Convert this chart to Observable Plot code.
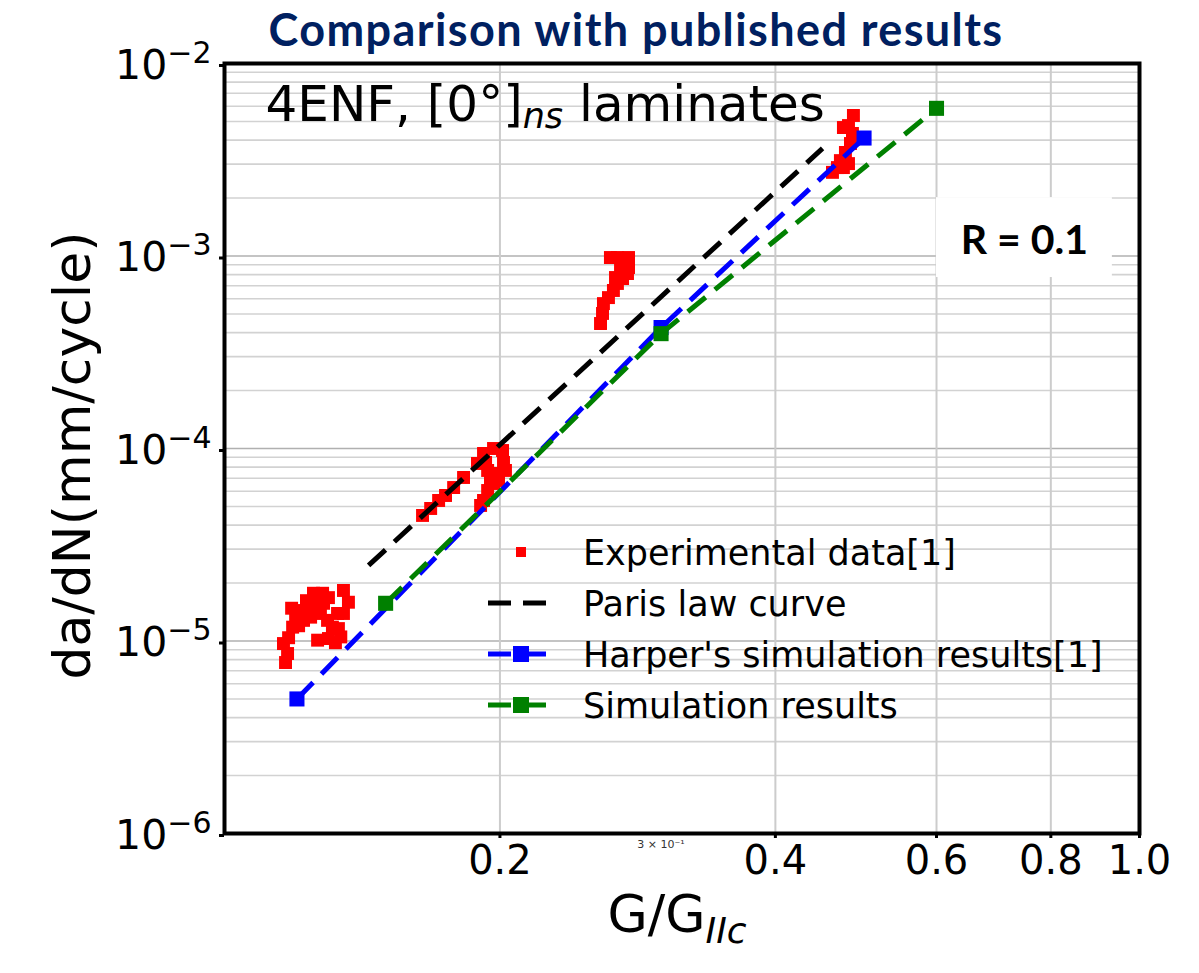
<!DOCTYPE html>
<html><head><meta charset="utf-8">
<script src="https://cdn.jsdelivr.net/npm/d3@7"></script>
<script src="https://cdn.jsdelivr.net/npm/@observablehq/plot@0.6"></script>
<style>
body{margin:0;background:#fff;}
#wrap{position:relative;width:1199px;height:973px;overflow:hidden;background:#fff;}
#wrap > svg{position:absolute;left:0;top:0;}
</style></head><body><div id="wrap"></div>
<script>
// ---- Experimental data [1] (G/GIIc, da/dN) ----
const expG = [
  0.1166,0.1172,0.1160,0.1175,0.1187,0.1196,0.1184,0.1211,0.1235,0.1257,
  0.1251,0.1280,0.1299,0.1273,0.1296,0.1312,0.1264,0.1299,0.1322,0.1332,
  0.1329,0.1349,0.1366,0.1349,0.1220,0.1205,0.1211,0.1242,0.1283,0.1229,0.1268,0.1340,
  0.1646,0.1680,0.1714,0.1744,0.1780,0.1825,0.1890,0.1919,0.1968,0.2013,
  0.2018,0.2028,0.1988,0.1939,0.1968,0.1939,0.1919,0.1905,0.1953,0.1993,0.1929,
  0.2576,0.2589,0.2595,0.2628,0.2661,0.2688,0.2723,0.2757,0.2764,0.2744,
  0.2688,0.2641,0.2764,0.2709,0.2675,
  0.4868,0.4808,0.4747,0.4856,0.4832,0.4771,0.4711,0.4676,0.4618,0.4747,0.4808
];
const expRate = [
  7.73e-6,8.61e-6,9.70e-6,1.04e-5,1.18e-5,1.31e-5,1.48e-5,1.44e-5,1.49e-5,1.59e-5,
  1.77e-5,1.77e-5,1.68e-5,1.39e-5,1.28e-5,1.18e-5,1.01e-5,1.03e-5,9.8e-6,1.16e-5,
  1.39e-5,1.83e-5,1.59e-5,1.39e-5,1.28e-5,1.20e-5,1.36e-5,1.33e-5,1.57e-5,1.62e-5,1.74e-5,1.05e-5,
  4.49e-5,4.88e-5,5.37e-5,5.70e-5,6.27e-5,7.07e-5,8.36e-5,9.42e-5,1.0e-4,9.76e-5,
  8.46e-5,7.69e-5,7.42e-5,7.69e-5,6.58e-5,6.05e-5,5.37e-5,5.06e-5,6.82e-5,6.82e-5,8.46e-5,
  4.46e-4,5.03e-4,5.66e-4,6.08e-4,6.62e-4,7.20e-4,7.64e-4,8.11e-4,8.71e-4,9.48e-4,
  9.82e-4,9.82e-4,9.82e-4,8.61e-4,7.73e-4,
  5.37e-3,4.76e-3,4.65e-3,4.33e-3,3.84e-3,3.45e-3,3.13e-3,2.88e-3,2.72e-3,2.88e-3,3.02e-3
];
// ---- Paris law curve ----
const parisG = [0.1437, 0.4504];
const parisRate = [2.47e-5, 3.62e-3];
// ---- Harper's simulation results [1] ----
const harperG = [0.12, 0.30, 0.50];
const harperRate = [5.0e-6, 4.25e-4, 4.1e-3];
// ---- Simulation results ----
const simG = [0.15, 0.30, 0.60];
const simRate = [1.57e-5, 3.95e-4, 5.85e-3];

// ---- ticks / labels ----
const xTicks = [0.2, 0.4, 0.6, 0.8, 1.0];
const xTickLabels = ["0.2", "0.4", "0.6", "0.8", "1.0"];
const xGrid = [0.2, 0.4, 0.6, 0.8];
const xMinorTick = [0.3];
const xMinorLabel = ["3 × 10⁻¹"];
const yTicks = [1e-6, 1e-5, 1e-4, 1e-3, 1e-2];
const yExponents = ["−6", "−5", "−4", "−3", "−2"];
const yMinor = d3.range(-6, -2).flatMap(k => d3.range(2, 10).map(m => m * Math.pow(10, k)));
const titleText = "Comparison with published results";
const yLabel = "da/dN(mm/cycle)";
const xLabelMain = "G/G";
const xLabelSub = "IIc";
const noteMain = "4ENF, [0°]";
const noteSub = "ns";
const noteTail = " laminates";
const boxG = [0.60, 0.934];
const boxRate = [7.73e-4, 2.01e-3];
const boxText = "R = 0.1";
const boxTextAt = [0.7485, 1.20e-3];
const legendLabels = ["Experimental data[1]", "Paris law curve", "Harper's simulation results[1]", "Simulation results"];
const legendColors = ["#ff0000", "#000000", "#0000ff", "#008000"];

const rows = (G, R) => G.map((g, i) => ({g, r: R[i]}));
const expRows = rows(expG, expRate);
const DASH = "23,12";

const chart = Plot.plot({
  width: 1199, height: 973,
  marginLeft: 224, marginRight: 60, marginTop: 63, marginBottom: 140,
  style: {fontFamily: "DejaVu Sans", background: "white", color: "black", overflow: "visible"},
  x: {type: "log", domain: [0.1, 1]},
  y: {type: "log", domain: [1e-6, 1e-2]},
  marks: [
    Plot.ruleY(yMinor, {stroke: "#d2d2d2", strokeWidth: 1.6}),
    Plot.ruleY(yTicks, {stroke: "#b0b0b0", strokeWidth: 1.6}),
    Plot.ruleX(xGrid, {stroke: "#cccccc", strokeWidth: 2}),
    Plot.rect([{x1: boxG[0], x2: boxG[1], y1: boxRate[0], y2: boxRate[1]}],
      {x1: "x1", x2: "x2", y1: "y1", y2: "y2", fill: "white"}),
    Plot.text([boxText], {x: () => boxTextAt[0], y: () => boxTextAt[1], text: d => d,
      fontFamily: "Lato", fontWeight: 700, fontSize: 41, fill: "black"}),
    Plot.dot(expRows, {x: "g", y: "r", symbol: "square", r: 7.3, fill: legendColors[0], stroke: "none"}),
    Plot.line(rows(parisG, parisRate), {x: "g", y: "r", stroke: legendColors[1], strokeWidth: 5,
      strokeDasharray: DASH, strokeLinecap: "butt"}),
    Plot.line(rows(harperG, harperRate), {x: "g", y: "r", stroke: legendColors[2], strokeWidth: 5,
      strokeDasharray: DASH, strokeLinecap: "butt"}),
    Plot.dot(rows(harperG, harperRate), {x: "g", y: "r", symbol: "square", r: 8.5, fill: legendColors[2], stroke: "none"}),
    Plot.line(rows(simG, simRate), {x: "g", y: "r", stroke: legendColors[3], strokeWidth: 5,
      strokeDasharray: DASH, strokeLinecap: "butt"}),
    Plot.dot(rows(simG, simRate), {x: "g", y: "r", symbol: "square", r: 8.5, fill: legendColors[3], stroke: "none"}),
    Plot.frame({stroke: "black", strokeWidth: 4}),
    Plot.axisX(xTicks, {tickFormat: d => xTickLabels[xTicks.indexOf(d)], fontSize: 40, tickSize: 5,
      tickPadding: 7, strokeWidth: 3, label: null}),
    Plot.axisX(xMinorTick, {tickFormat: () => xMinorLabel[0], fontSize: 11, tickSize: 0,
      tickPadding: 7, fill: "#333", label: null}),
    Plot.axisY(yTicks, {tickFormat: d => yExponents[yTicks.indexOf(d)], fontSize: 41, tickSize: 5,
      tickPadding: 8, strokeWidth: 3, dy: 2, label: null}),
    Plot.text([yLabel], {frameAnchor: "left", text: d => d, rotate: -90, dx: -151, dy: 7,
      fontSize: 52, textAnchor: "middle"}),
    Plot.text([xLabelMain], {frameAnchor: "bottom-left", text: d => d, dx: 383, dy: 98,
      fontSize: 52, textAnchor: "start"}),
    Plot.text([noteMain], {frameAnchor: "top-left", text: d => d, dx: 41, dy: 22,
      fontSize: 50, textAnchor: "start"})
  ]
});

const svg = d3.select(chart);
// superscript y tick labels
svg.selectAll('g[aria-label="y-axis tick label"] text').each(function () {
  const exp = this.textContent;
  const t = d3.select(this);
  t.text(null);
  t.append("tspan").text("10");
  t.append("tspan").attr("dy", -16).attr("font-size", 30).text(exp);
});
// subscripts in labels
svg.selectAll("text").each(function () {
  const t = d3.select(this);
  if (this.textContent === xLabelMain) {
    t.text(null);
    t.append("tspan").text(xLabelMain);
    t.append("tspan").attr("dy", 11).attr("font-size", 36).attr("font-style", "italic").text(xLabelSub);
  } else if (this.textContent === noteMain) {
    t.text(null);
    t.append("tspan").text(noteMain);
    t.append("tspan").attr("dy", 7).attr("font-size", 35).attr("font-style", "italic").text(noteSub);
    t.append("tspan").attr("dy", -7).text(noteTail);
  }
});
document.getElementById("wrap").appendChild(chart);

// overlay: title + legend
const ov = d3.select("#wrap").append("svg").attr("width", 1199).attr("height", 973)
  .style("pointer-events", "none").attr("font-family", "DejaVu Sans");
ov.append("text").attr("x", 636).attr("y", 46).attr("text-anchor", "middle")
  .attr("font-family", "Lato").attr("font-weight", 700).attr("font-size", 45)
  .attr("letter-spacing", 1.4).attr("fill", "#002060").text(titleText);
const lg = ov.append("g");
legendLabels.forEach((lab, i) => {
  const y = 552 + i * 51;
  if (i === 0) {
    lg.append("rect").attr("x", 516).attr("y", y - 5).attr("width", 10).attr("height", 10).attr("fill", legendColors[0]);
  } else {
    lg.append("line").attr("x1", 488).attr("x2", 555).attr("y1", y).attr("y2", y)
      .attr("stroke", legendColors[i]).attr("stroke-width", 5).attr("stroke-dasharray", DASH);
    if (i > 1) lg.append("rect").attr("x", 513).attr("y", y - 8).attr("width", 16).attr("height", 16).attr("fill", legendColors[i]);
  }
  lg.append("text").attr("x", 583).attr("y", y + 12.5).attr("font-size", 35).attr("fill", "black").text(lab);
});
</script></body></html>
